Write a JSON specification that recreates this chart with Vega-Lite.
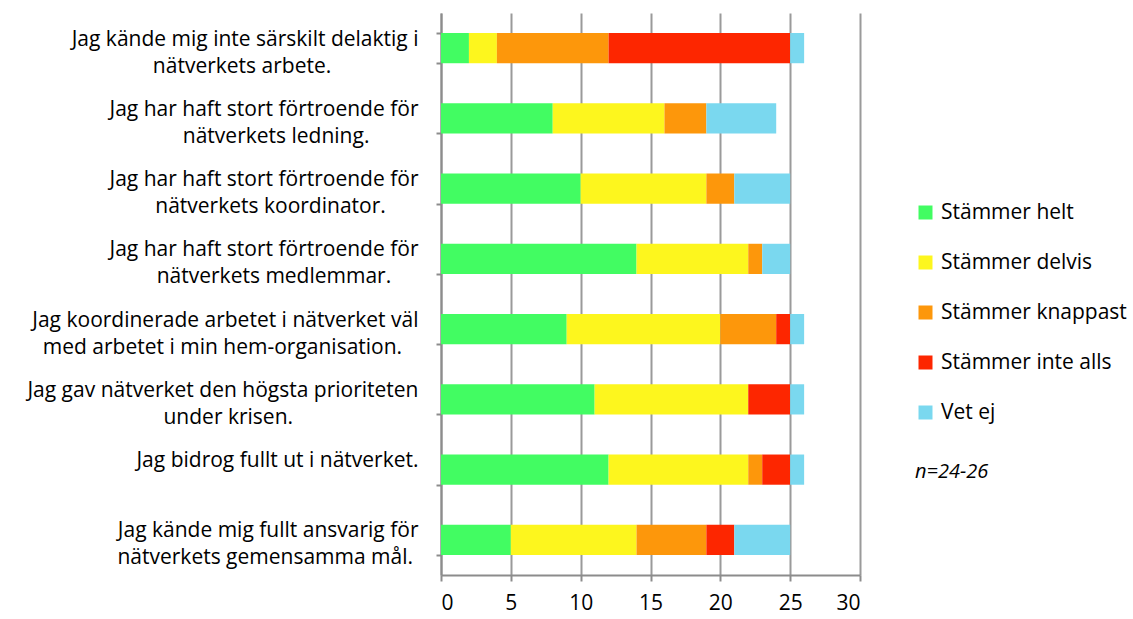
{
  "$schema": "https://vega.github.io/schema/vega-lite/v6.json",
  "autosize": "none",
  "width": 419,
  "height": 562,
  "padding": {"left": 441, "top": 13, "right": 273, "bottom": 44},
  "background": "white",
  "config": {
    "font": "Open Sans",
    "view": {"stroke": null}
  },
  "data": {
    "values": [
      {"q": "Jag kände mig inte särskilt delaktig i|nätverkets arbete.", "qo": 1, "svar": "Stämmer helt", "k": 1, "n": 2},
      {"q": "Jag kände mig inte särskilt delaktig i|nätverkets arbete.", "qo": 1, "svar": "Stämmer delvis", "k": 2, "n": 2},
      {"q": "Jag kände mig inte särskilt delaktig i|nätverkets arbete.", "qo": 1, "svar": "Stämmer knappast", "k": 3, "n": 8},
      {"q": "Jag kände mig inte särskilt delaktig i|nätverkets arbete.", "qo": 1, "svar": "Stämmer inte alls", "k": 4, "n": 13},
      {"q": "Jag kände mig inte särskilt delaktig i|nätverkets arbete.", "qo": 1, "svar": "Vet ej", "k": 5, "n": 1},
      {"q": "Jag har haft stort förtroende för|nätverkets ledning.", "qo": 2, "svar": "Stämmer helt", "k": 1, "n": 8},
      {"q": "Jag har haft stort förtroende för|nätverkets ledning.", "qo": 2, "svar": "Stämmer delvis", "k": 2, "n": 8},
      {"q": "Jag har haft stort förtroende för|nätverkets ledning.", "qo": 2, "svar": "Stämmer knappast", "k": 3, "n": 3},
      {"q": "Jag har haft stort förtroende för|nätverkets ledning.", "qo": 2, "svar": "Stämmer inte alls", "k": 4, "n": 0},
      {"q": "Jag har haft stort förtroende för|nätverkets ledning.", "qo": 2, "svar": "Vet ej", "k": 5, "n": 5},
      {"q": "Jag har haft stort förtroende för|nätverkets koordinator.", "qo": 3, "svar": "Stämmer helt", "k": 1, "n": 10},
      {"q": "Jag har haft stort förtroende för|nätverkets koordinator.", "qo": 3, "svar": "Stämmer delvis", "k": 2, "n": 9},
      {"q": "Jag har haft stort förtroende för|nätverkets koordinator.", "qo": 3, "svar": "Stämmer knappast", "k": 3, "n": 2},
      {"q": "Jag har haft stort förtroende för|nätverkets koordinator.", "qo": 3, "svar": "Stämmer inte alls", "k": 4, "n": 0},
      {"q": "Jag har haft stort förtroende för|nätverkets koordinator.", "qo": 3, "svar": "Vet ej", "k": 5, "n": 4},
      {"q": "Jag har haft stort förtroende för|nätverkets medlemmar.", "qo": 4, "svar": "Stämmer helt", "k": 1, "n": 14},
      {"q": "Jag har haft stort förtroende för|nätverkets medlemmar.", "qo": 4, "svar": "Stämmer delvis", "k": 2, "n": 8},
      {"q": "Jag har haft stort förtroende för|nätverkets medlemmar.", "qo": 4, "svar": "Stämmer knappast", "k": 3, "n": 1},
      {"q": "Jag har haft stort förtroende för|nätverkets medlemmar.", "qo": 4, "svar": "Stämmer inte alls", "k": 4, "n": 0},
      {"q": "Jag har haft stort förtroende för|nätverkets medlemmar.", "qo": 4, "svar": "Vet ej", "k": 5, "n": 2},
      {"q": "Jag koordinerade arbetet i nätverket väl|med arbetet i min hem-organisation.", "qo": 5, "svar": "Stämmer helt", "k": 1, "n": 9},
      {"q": "Jag koordinerade arbetet i nätverket väl|med arbetet i min hem-organisation.", "qo": 5, "svar": "Stämmer delvis", "k": 2, "n": 11},
      {"q": "Jag koordinerade arbetet i nätverket väl|med arbetet i min hem-organisation.", "qo": 5, "svar": "Stämmer knappast", "k": 3, "n": 4},
      {"q": "Jag koordinerade arbetet i nätverket väl|med arbetet i min hem-organisation.", "qo": 5, "svar": "Stämmer inte alls", "k": 4, "n": 1},
      {"q": "Jag koordinerade arbetet i nätverket väl|med arbetet i min hem-organisation.", "qo": 5, "svar": "Vet ej", "k": 5, "n": 1},
      {"q": "Jag gav nätverket den högsta prioriteten|under krisen.", "qo": 6, "svar": "Stämmer helt", "k": 1, "n": 11},
      {"q": "Jag gav nätverket den högsta prioriteten|under krisen.", "qo": 6, "svar": "Stämmer delvis", "k": 2, "n": 11},
      {"q": "Jag gav nätverket den högsta prioriteten|under krisen.", "qo": 6, "svar": "Stämmer knappast", "k": 3, "n": 0},
      {"q": "Jag gav nätverket den högsta prioriteten|under krisen.", "qo": 6, "svar": "Stämmer inte alls", "k": 4, "n": 3},
      {"q": "Jag gav nätverket den högsta prioriteten|under krisen.", "qo": 6, "svar": "Vet ej", "k": 5, "n": 1},
      {"q": "Jag bidrog fullt ut i nätverket.", "qo": 7, "svar": "Stämmer helt", "k": 1, "n": 12},
      {"q": "Jag bidrog fullt ut i nätverket.", "qo": 7, "svar": "Stämmer delvis", "k": 2, "n": 10},
      {"q": "Jag bidrog fullt ut i nätverket.", "qo": 7, "svar": "Stämmer knappast", "k": 3, "n": 1},
      {"q": "Jag bidrog fullt ut i nätverket.", "qo": 7, "svar": "Stämmer inte alls", "k": 4, "n": 2},
      {"q": "Jag bidrog fullt ut i nätverket.", "qo": 7, "svar": "Vet ej", "k": 5, "n": 1},
      {"q": "Jag kände mig fullt ansvarig för|nätverkets gemensamma mål.", "qo": 8, "svar": "Stämmer helt", "k": 1, "n": 5},
      {"q": "Jag kände mig fullt ansvarig för|nätverkets gemensamma mål.", "qo": 8, "svar": "Stämmer delvis", "k": 2, "n": 9},
      {"q": "Jag kände mig fullt ansvarig för|nätverkets gemensamma mål.", "qo": 8, "svar": "Stämmer knappast", "k": 3, "n": 5},
      {"q": "Jag kände mig fullt ansvarig för|nätverkets gemensamma mål.", "qo": 8, "svar": "Stämmer inte alls", "k": 4, "n": 2},
      {"q": "Jag kände mig fullt ansvarig för|nätverkets gemensamma mål.", "qo": 8, "svar": "Vet ej", "k": 5, "n": 4}
    ]
  },
  "mark": {"type": "bar"},
  "encoding": {
    "y": {
      "field": "q",
      "type": "nominal",
      "sort": {"field": "qo", "op": "min", "order": "ascending"},
      "scale": {"paddingInner": 0.57, "paddingOuter": 0.285},
      "axis": {
        "title": null,
        "labelExpr": "length(split(datum.label,'|')) < 2 ? datum.label : [split(datum.label,'|')[0] + pad('', max(0, round(1.05*((length(split(datum.label,'|')[1]) - 0.5*length(replace(split(datum.label,'|')[1], regexp('[^iljtfr. -]','g'), '')) + 0.6*length(replace(split(datum.label,'|')[1], regexp('[^mw]','g'), ''))) - (length(split(datum.label,'|')[0]) - 0.5*length(replace(split(datum.label,'|')[0], regexp('[^iljtfr. -]','g'), '')) + 0.6*length(replace(split(datum.label,'|')[0], regexp('[^mw]','g'), '')))))), '\u00a0') + '\u200b', split(datum.label,'|')[1] + pad('', max(0, round(1.05*((length(split(datum.label,'|')[0]) - 0.5*length(replace(split(datum.label,'|')[0], regexp('[^iljtfr. -]','g'), '')) + 0.6*length(replace(split(datum.label,'|')[0], regexp('[^mw]','g'), ''))) - (length(split(datum.label,'|')[1]) - 0.5*length(replace(split(datum.label,'|')[1], regexp('[^iljtfr. -]','g'), '')) + 0.6*length(replace(split(datum.label,'|')[1], regexp('[^mw]','g'), '')))))), '\u00a0') + '\u200b']",
        "labelFontSize": 21,
        "labelLineHeight": 27,
        "labelColor": "#000000",
        "labelPadding": 18,
        "labelLimit": 440,
        "labelOffset": -9,
        "tickBand": "extent",
        "tickSize": 5,
        "tickColor": "#8c8c8c",
        "tickWidth": 2,
        "domainColor": "#8c8c8c",
        "domainWidth": 2
      }
    },
    "x": {
      "field": "n",
      "type": "quantitative",
      "stack": "zero",
      "scale": {"domain": [0, 30], "nice": false},
      "axis": {
        "title": null,
        "values": [0, 5, 10, 15, 20, 25, 30],
        "labelFontSize": 21,
        "labelColor": "#000000",
        "labelPadding": 11,
        "tickSize": 6,
        "tickColor": "#8c8c8c",
        "tickWidth": 2,
        "domainColor": "#8c8c8c",
        "domainWidth": 2,
        "grid": true,
        "gridColor": "#9a9a9a",
        "gridWidth": 2
      }
    },
    "color": {
      "field": "svar",
      "type": "nominal",
      "sort": ["Stämmer helt", "Stämmer delvis", "Stämmer knappast", "Stämmer inte alls", "Vet ej"],
      "scale": {
        "domain": ["Stämmer helt", "Stämmer delvis", "Stämmer knappast", "Stämmer inte alls", "Vet ej"],
        "range": ["#42fc62", "#fdf61e", "#fd970b", "#fd2600", "#7ad8ef"]
      },
      "legend": {
        "orient": "none",
        "legendX": 474,
        "legendY": 189,
        "title": "n=24-26",
        "titleOrient": "bottom",
        "titleFontStyle": "italic",
        "titleFontWeight": "normal",
        "titleFontSize": 20,
        "titleColor": "#000000",
        "titlePadding": 39,
        "symbolType": "square",
        "symbolSize": 196,
        "symbolStrokeWidth": 0,
        "symbolOpacity": 1,
        "labelFontSize": 21,
        "labelColor": "#000000",
        "labelOffset": 5,
        "rowPadding": 28,
        "labelLimit": 300
      }
    },
    "order": {"field": "k", "type": "quantitative"}
  }
}
